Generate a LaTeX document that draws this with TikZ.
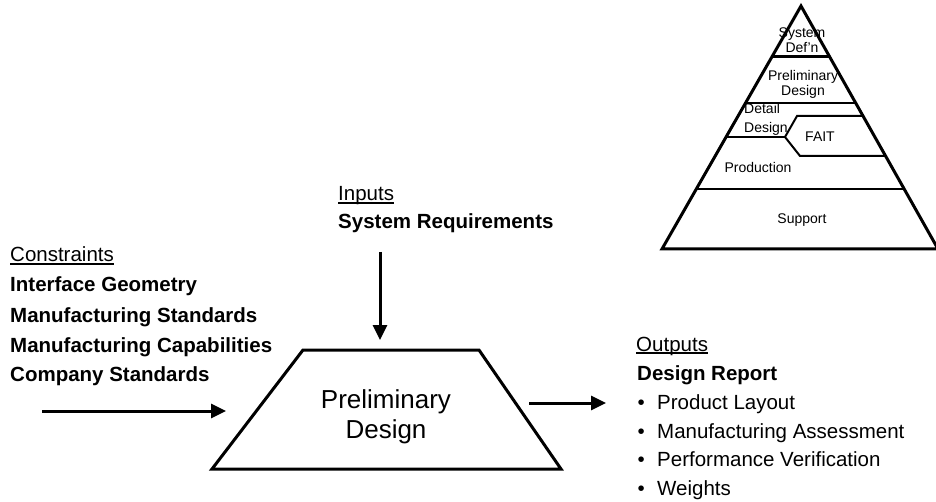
\documentclass[tikz,border=0pt]{standalone}
\usepackage{fontspec}
\setmainfont{Liberation Sans}
\usepackage{xcolor}
\usetikzlibrary{shapes.geometric, arrows.meta}

\newcommand{\headline}[1]{\setbox0\hbox{#1}\rlap{\rule[-3pt]{\wd0}{1.6pt}}\box0}
\newcommand{\bul}{\makebox[20pt][l]{\hspace{0.5pt}\textbullet}}

\begin{document}
\begin{tikzpicture}[x=1pt, y=-1pt,
    >={Triangle[length=15pt,width=14pt]},
    txt/.style={anchor=base west, inner sep=0pt, font=\fontsize{20.5}{24}\selectfont},
    txtb/.style={txt, font=\fontsize{20.5}{24}\selectfont\bfseries},
    pyr/.style={inner sep=0pt, align=center, font=\fontsize{14}{15}\selectfont},
    flow/.style={->, line width=3pt}]
    \useasboundingbox (0,0) rectangle (936,502);

    % pyramid
    \coordinate (apex) at (801,6);
    \coordinate (bl) at (662,249);
    \coordinate (br) at (938,249);
    \draw[line width=3pt] (apex) -- (br) -- (bl) -- cycle;
    \draw[line width=3pt] (772,57) -- (830,57);
    \draw[line width=2pt] (746,103) -- (856,103);
    \draw[line width=2pt] (726,137) -- (785,137);
    \draw[line width=2pt] (863,116) -- (797,116) -- (785,137) -- (800,156) -- (886,156);
    \draw[line width=2pt] (697,189) -- (904,189);

    \node[pyr] (sysdef) at (802,40) {System\\Def’n};
    \node[pyr] (prepyr) at (803,84) {Preliminary\\Design};
    \node[pyr, align=left, anchor=west, font=\fontsize{14}{19}\selectfont] (detail) at (744,119) {Detail\\Design};
    \node[pyr] (fait) at (820,137) {FAIT};
    \node[pyr] (prod) at (758,167) {Production};
    \node[pyr] (supp) at (802,220) {Support};

    % main block
    \coordinate (tl) at (303,350);
    \coordinate (tr) at (479,350);
    \coordinate (btr) at (561,469);
    \coordinate (btl) at (212,469);
    \draw[line width=3pt] (btl) -- (tl) -- (tr) -- (btr) -- cycle;
    \node[align=center, inner sep=0pt, font=\fontsize{26}{30}\selectfont] (prelim)
          at (386,417) {Preliminary\\Design};

    % constraints
    \node[txt] (cons) at (10,262) {\headline{Constraints}};
    \node[txtb] (geom) at (10,292) {Interface Geometry};
    \node[txtb] (mstd) at (10,322) {Manufacturing Standards};
    \node[txtb] (mcap) at (10,352) {Manufacturing Capabilities};
    \node[txtb] (cstd) at (10,381) {Company Standards};

    % inputs
    \node[txt] (inputs) at (338,201) {\headline{Inputs}};
    \node[txtb] (sysreq) at (338,229) {System Requirements};

    % outputs
    \node[txt] (outputs) at (636,351) {\headline{Outputs}};
    \node[txtb] (report) at (637,380) {Design Report};
    \node[txt] (layout) at (637,409) {\bul Product Layout};
    \node[txt] (assess) at (637,438) {\bul Manufacturing Assessment};
    \node[txt] (verif) at (637,466) {\bul Performance Verification};
    \node[txt] (weights) at (637,495) {\bul Weights};

    % arrows
    \coordinate (cin) at (42,411);
    \coordinate (cinend) at (226,411);
    \coordinate (cdown) at (380,252);
    \coordinate (cdownend) at (380,340);
    \coordinate (coutstart) at (529,403);
    \coordinate (cout) at (606,403);
    \draw[flow] (cin) -- (cinend);
    \draw[flow] (cdown) -- (cdownend);
    \draw[flow] (coutstart) -- (cout);
\end{tikzpicture}
\end{document}
